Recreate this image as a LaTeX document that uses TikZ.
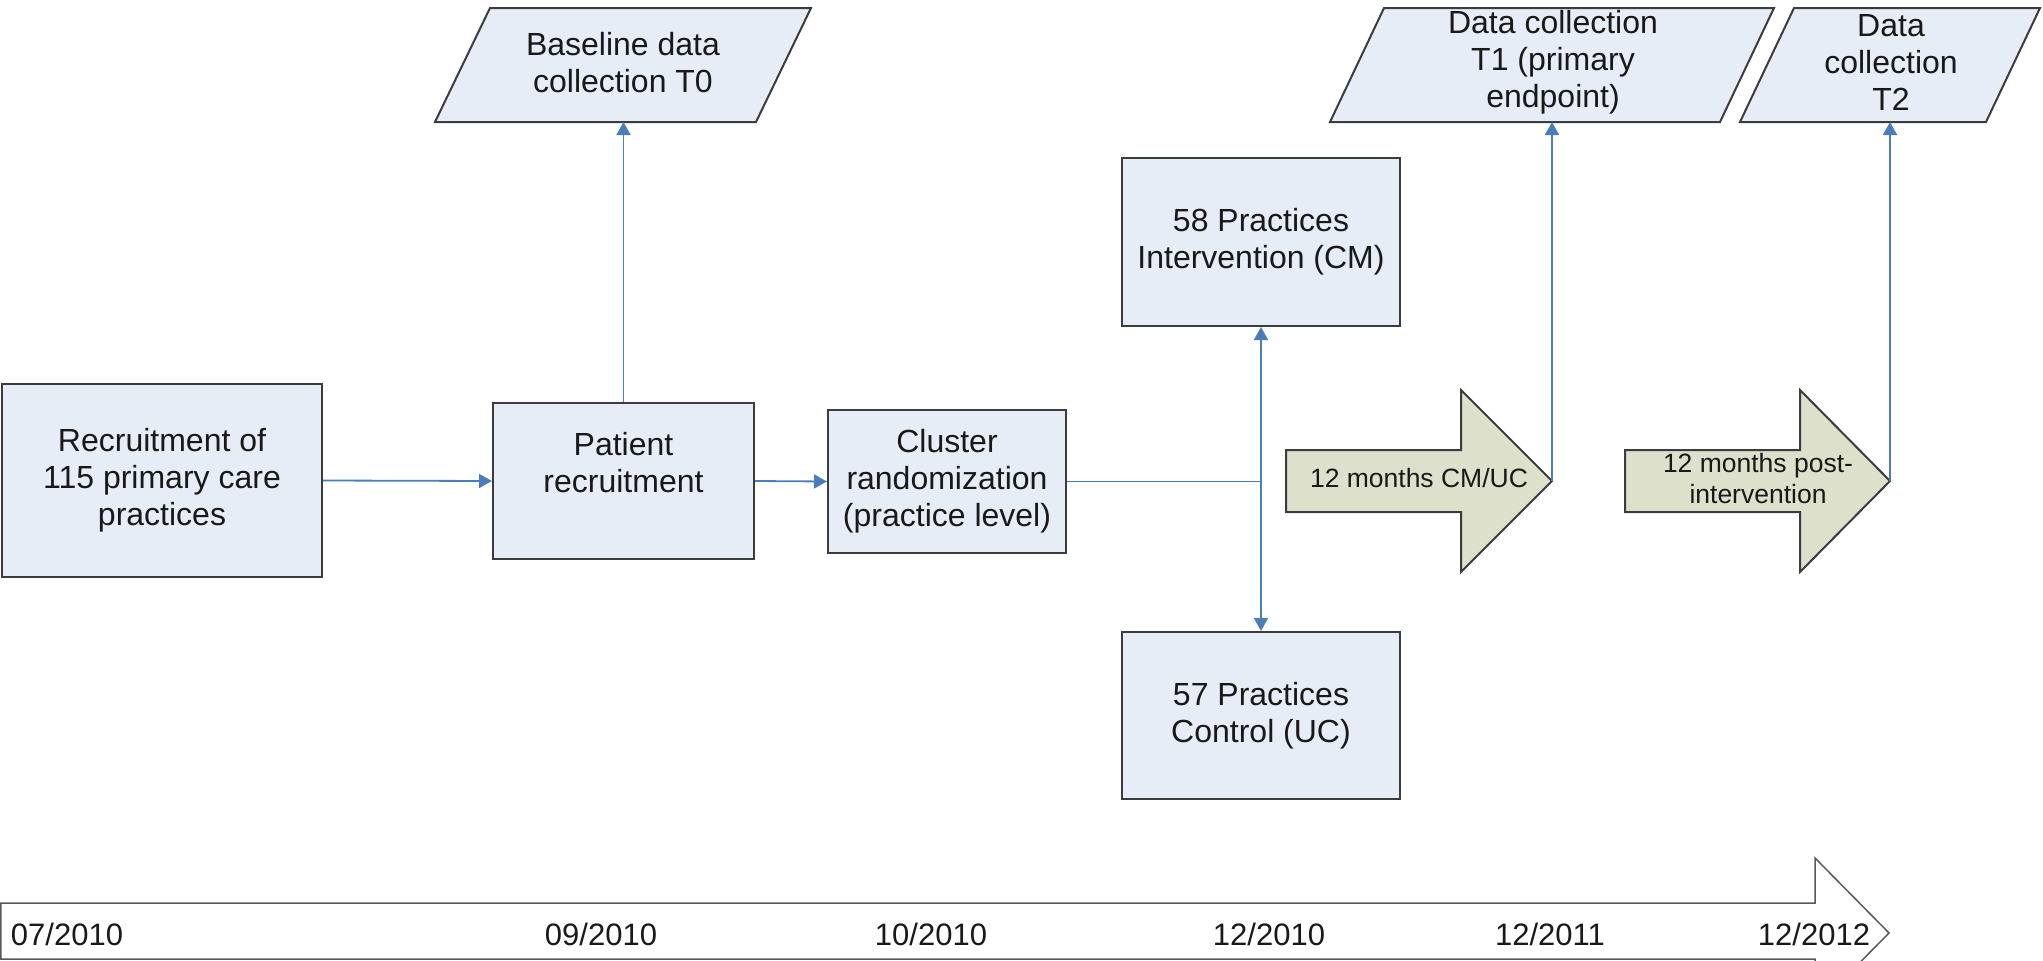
\documentclass[tikz,border=0pt]{standalone}
\usepackage{fontspec}
\setmainfont{Liberation Sans}
\usetikzlibrary{arrows.meta}
\definecolor{boxfill}{RGB}{231,237,247}
\definecolor{boxline}{RGB}{60,60,60}
\definecolor{conn}{RGB}{74,126,187}
\definecolor{arrfill}{RGB}{221,224,203}
\definecolor{txt}{RGB}{25,25,25}
\begin{document}
\begin{tikzpicture}[x=1pt,y=-1pt,
  box/.style={draw=boxline, fill=boxfill, line width=2pt, inner sep=0pt, align=center,
    text=txt, font=\fontsize{32}{37}\selectfont},
  para/.style={draw=boxline, fill=boxfill, line width=2pt, line join=miter},
  ptext/.style={inner sep=0pt, align=center, text=txt, font=\fontsize{32}{37}\selectfont},
  blockarrow/.style={draw=boxline, fill=arrfill, line width=2pt, line join=miter},
  atext/.style={inner sep=0pt, align=center, text=txt, font=\fontsize{26.5}{31}\selectfont},
  conn/.style={draw=conn, line width=1.8pt},
  cto/.style={conn, -{Triangle[length=13pt,width=14pt]}},
  timeline/.style={draw=black!65, fill=white, line width=1.5pt, line join=miter},
  tlabel/.style={inner sep=0pt, anchor=base, text=txt, font=\fontsize{31}{36}\selectfont}]
\useasboundingbox (0,0) rectangle (2043,961);
\clip (0,0) rectangle (2043,961);

% timeline
\draw[timeline] (0.75,903) -- (1815,903) -- (1815,858) -- (1889,933) -- (1815,1008) -- (1815,959) -- (0.75,959) -- cycle;
\node[tlabel] (d1) at (67,945) {07/2010};
\node[tlabel] (d2) at (601,945) {09/2010};
\node[tlabel] (d3) at (931,945) {10/2010};
\node[tlabel] (d4) at (1269,945) {12/2010};
\node[tlabel] (d5) at (1550,945) {12/2011};
\node[tlabel] (d6) at (1814,945) {12/2012};

% boxes
\node[box, minimum width=320pt, minimum height=193pt] (rec) at (162,480.5) {Recruitment of\\115 primary care\\practices};
\node[box, minimum width=261pt, minimum height=156pt] (pat) at (623.5,481) {Patient\\recruitment\\\mbox{}};
\node[box, minimum width=238pt, minimum height=143pt] (clu) at (947,481.5) {Cluster\\randomization\\(practice level)};
\node[box, minimum width=278pt, minimum height=168pt] (cm) at (1261,242) {58 Practices\\Intervention (CM)};
\node[box, minimum width=278pt, minimum height=167pt] (uc) at (1261,715.5) {57 Practices\\Control (UC)};

% parallelograms
\draw[para] (490,8) -- (811,8) -- (756,122) -- (435,122) -- cycle;
\node[ptext] (t0) at (623,63) {Baseline data\\collection T0};
\coordinate (t0b) at (623,122);
\draw[para] (1384,8) -- (1774,8) -- (1720,122) -- (1330,122) -- cycle;
\node[ptext] (t1) at (1553,62) {Data collection\\T1 (primary\\endpoint)};
\coordinate (t1b) at (1553,122);
\draw[para] (1794,8) -- (2040,8) -- (1986,122) -- (1740,122) -- cycle;
\node[ptext] (t2) at (1891,62) {Data\\collection\\T2};
\coordinate (t2b) at (1891,122);

% block arrows
\draw[blockarrow] (1286,450) -- (1461,450) -- (1461,390) -- (1552,481) -- (1461,572) -- (1461,512) -- (1286,512) -- cycle;
\node[atext] (a1) at (1419,478) {12 months CM/UC};
\coordinate (a1tip) at (1552,481);
\draw[blockarrow] (1625,450) -- (1800,450) -- (1800,390) -- (1890,481) -- (1800,572) -- (1800,512) -- (1625,512) -- cycle;
\node[atext] (a2) at (1758,479) {12 months post-\\intervention};
\coordinate (a2tip) at (1890,481);

% connectors
\draw[cto] (rec.east) -- (pat.west);
\draw[cto] (pat.north) -- (pat.north |- t0b);
\draw[cto] (pat.east) -- (clu.west);
\coordinate (junc) at (cm.south |- clu.east);
\draw[conn] (clu.east) -- (junc);
\draw[cto] (junc) -- (cm.south);
\draw[cto] (junc) -- (uc.north);
\draw[cto] (a1tip) -- (a1tip |- t1b);
\draw[cto] (a2tip) -- (a2tip |- t2b);
\end{tikzpicture}
\end{document}
